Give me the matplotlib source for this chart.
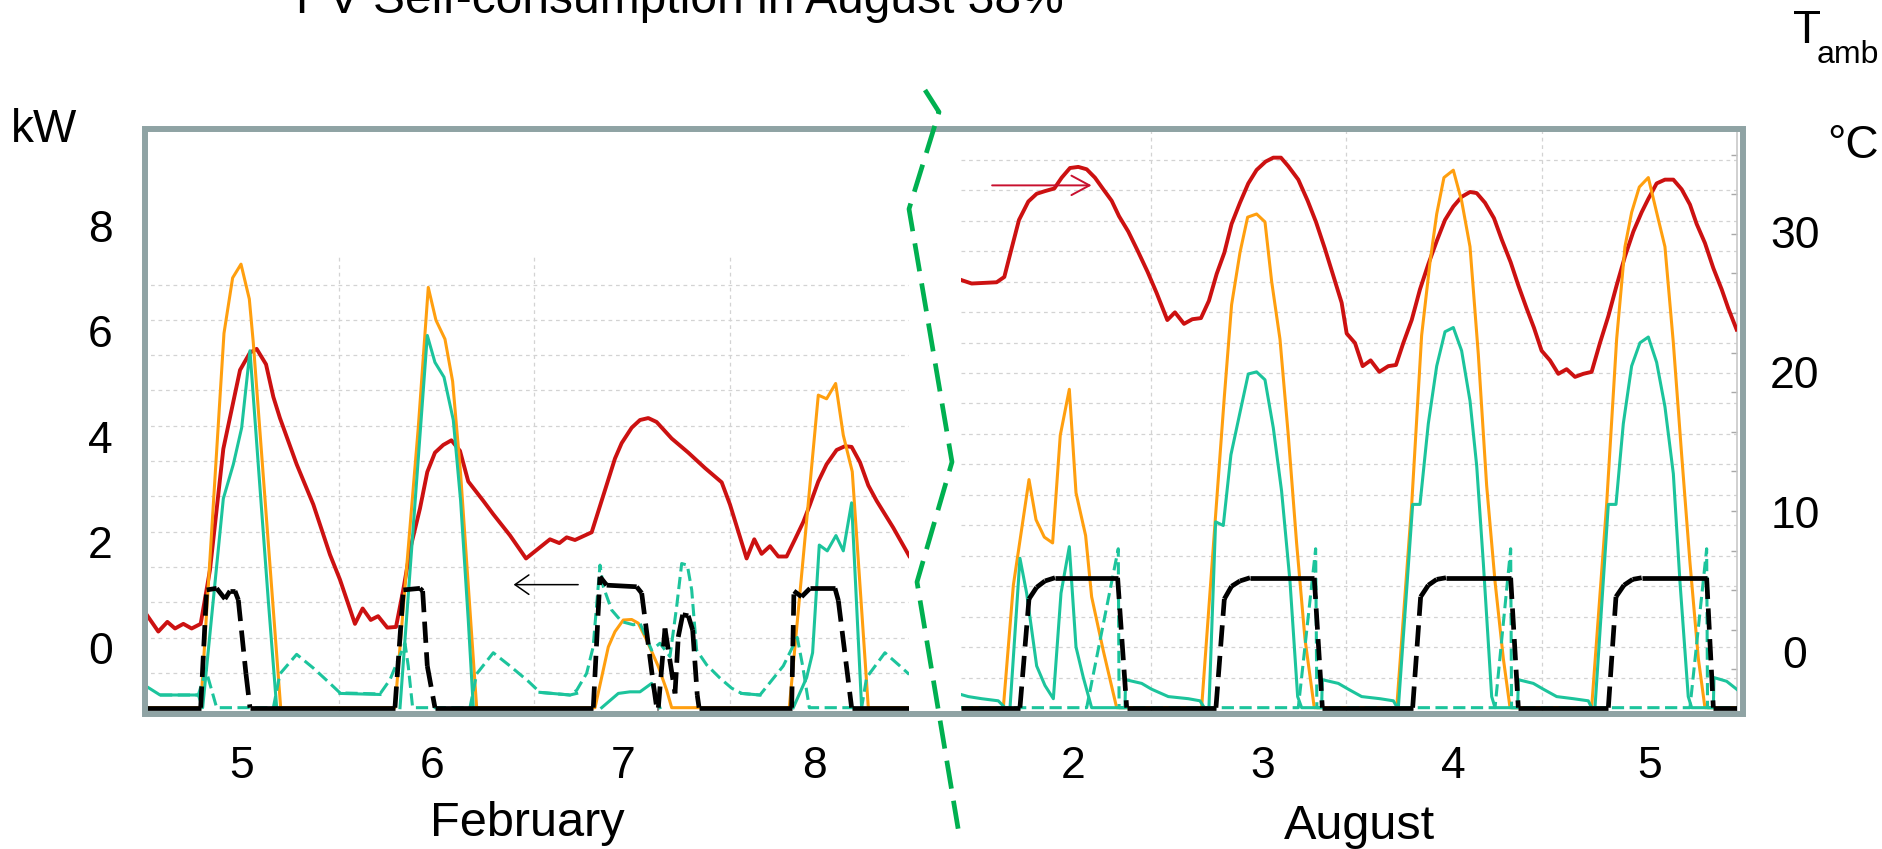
import numpy as np
import matplotlib
matplotlib.use("Agg")
import matplotlib.pyplot as plt
from matplotlib.collections import LineCollection
from matplotlib.lines import Line2D
from matplotlib.patches import Rectangle

plt.rcParams['font.family'] = ['Liberation Sans', 'DejaVu Sans']

# ---- data (hour of the 4-day window, value) ----
# kW series on the left axis, ambient temperature in degC on the right axis
feb_days = ['5', '6', '7', '8']
aug_days = ['2', '3', '4', '5']
feb_day_pos = [12.0, 35.4, 58.9, 82.4]
aug_day_pos = [14.5, 37.7, 61.2, 85.3]

feb_tamb = [(0.18, 2.84), (1.82, 1.46), (2.93, 2.15), (3.87, 1.68), (4.89, 2.01), (5.91, 1.68),
            (7.02, 2.01), (8.16, 5.86), (9.8, 14.51), (11.85, 20.14), (13.07, 21.38), (13.89, 21.65),
            (15.04, 20.55), (15.94, 18.22), (16.75, 16.71), (18.8, 13.41), (20.85, 10.53), (22.89, 6.96),
            (24.12, 5.17), (25.96, 2.01), (26.9, 3.11), (27.9, 2.29), (28.8, 2.56), (29.93, 1.74),
            (31.0, 1.79), (31.9, 4.48), (32.8, 7.5), (33.94, 10.25), (34.84, 12.86), (35.78, 14.24),
            (36.8, 14.79), (37.8, 15.12), (38.85, 14.37), (39.87, 12.18), (41.71, 10.8), (42.94, 9.84),
            (44.99, 8.33), (46.96, 6.68), (49.9, 8.05), (51.05, 7.78), (51.95, 8.19), (52.97, 8.0),
            (55.02, 8.55), (56.24, 10.8), (57.88, 13.82), (58.7, 14.92), (59.93, 16.02), (60.95, 16.57),
            (61.97, 16.71), (62.99, 16.43), (64.84, 15.25), (66.88, 14.24), (68.93, 13.14), (70.98, 12.12),
            (72.0, 10.53), (74.04, 6.68), (74.98, 8.05), (75.88, 7.01), (76.91, 7.56), (77.93, 6.82),
            (78.95, 6.82), (79.98, 8.05), (81.0, 9.29), (81.82, 10.53), (82.84, 12.18), (83.86, 13.41),
            (85.09, 14.43), (86.11, 14.7), (86.93, 14.65), (87.96, 13.55), (88.98, 11.9), (90.0, 10.8),
            (92.04, 8.88), (94.0, 6.86)]

feb_pv = [(0, -1.13), (7.02, -1.13), (9.88, 5.96), (10.94, 7.01), (11.97, 7.27), (12.99, 6.61),
          (13.48, 5.78), (15.32, 1.99), (16.84, -1.13), (30.87, -1.13), (33.73, 4.17), (34.96, 6.83),
          (35.9, 6.21), (37.01, 5.85), (37.95, 5.05), (38.93, 3.3), (40.9, -1.13), (55.43, -1.13),
          (57.06, 0.02), (57.88, 0.31), (58.9, 0.53), (59.93, 0.54), (60.74, 0.47), (61.77, 0.15),
          (63.2, -0.35), (64.23, -0.8), (64.84, -1.13), (79.28, -1.13), (82.84, 4.79), (83.86, 4.72),
          (84.97, 5.01), (85.91, 4.03), (87.01, 3.34), (88.98, -1.13), (94.0, -1.13)]

nan = np.nan
feb_self = [(0.18, -0.71), (2.03, -0.89), (6.73, -0.89), (7.26, -1.13), (9.8, 2.83), (11.03, 3.48),
            (12.05, 4.17), (13.07, 5.63), (14.1, 3.45), (15.32, 0.9), (16.35, -1.13), (nan, nan),
            (24.12, -0.86), (29.03, -0.88), (nan, nan), (31.49, -1.13), (34.84, 5.92), (35.78, 5.41),
            (36.89, 5.13), (38.03, 4.32), (38.93, 2.79), (39.87, 0.53), (40.49, -1.13), (nan, nan),
            (48.67, -0.84), (52.36, -0.89), (53.18, -0.86), (nan, nan), (56.25, -1.13), (58.29, -0.86),
            (59.72, -0.83), (60.95, -0.83), (62.38, -0.67), (63.4, -1.13), (nan, nan), (73.43, -0.86),
            (75.68, -0.89), (nan, nan), (79.77, -1.13), (81.41, -0.56), (82.14, -0.09), (82.96, 1.95),
            (83.94, 1.84), (85.01, 2.13), (85.91, 1.84), (86.93, 2.75), (88.16, -1.13)]

feb_load = [(2.03, -0.89), (6.73, -0.89), (7.67, -0.42), (8.98, -1.13), (15.94, -1.13), (16.75, -0.49),
            (18.8, -0.12), (20.85, -0.38), (22.89, -0.67), (24.12, -0.85), (29.03, -0.87), (30.26, -0.6),
            (32.1, 0.09), (32.5, -0.34), (33.04, -1.13), (40.08, -1.13), (40.9, -0.49), (42.94, -0.09),
            (44.99, -0.34), (47.24, -0.63), (48.67, -0.84), (52.36, -0.89), (53.18, -0.8), (54.4, -0.48),
            (55.2, 0.02), (56.04, 1.57), (56.45, 1.16), (57.47, 0.72), (58.7, 0.5), (60.13, 0.44),
            (60.95, 0.47), (62.38, -0.04), (63.4, 0.09), (64.63, -0.16), (65.45, 0.78), (66.07, 1.6),
            (66.76, 1.57), (67.3, 1.1), (67.9, -0.04), (69.14, -0.32), (70.77, -0.57), (72.2, -0.76),
            (73.43, -0.86), (75.68, -0.89), (78.54, -0.34), (80.26, 0.2), (80.92, -0.34), (81.74, -1.13),
            (88.16, -1.13), (88.77, -0.56), (91.02, -0.09), (92.86, -0.34), (94.0, -0.5)]

feb_hp = [(0, -1.13), (7.02, -1.13), (7.75, 1.1), (8.98, 1.13), (10.0, 0.93), (10.62, 1.08),
          (11.23, 1.08), (11.64, 0.91), (12.58, -0.49), (13.07, -1.13), (30.87, -1.13), (31.9, 1.1),
          (33.94, 1.13), (34.27, 1.08), (34.84, -0.34), (35.78, -1.13), (55.22, -1.13), (56.04, 1.35),
          (56.86, 1.19), (60.54, 1.16), (61.16, 1.04), (62.58, -0.67), (63.0, -1.13), (63.2, -1.13),
          (64.02, 0.37), (65.25, -0.86), (65.65, 0.21), (66.19, 0.63), (66.88, 0.61), (67.42, 0.34),
          (67.98, -0.89), (68.2, -1.13), (79.57, -1.13), (79.85, 1.08), (80.79, 0.97), (81.82, 1.13),
          (84.89, 1.13), (85.3, 0.9), (86.93, -1.13), (94.0, -1.13)]

aug_tamb = [(0.59, 26.6), (2.02, 26.32), (5.09, 26.41), (6.03, 26.79), (6.85, 28.66), (7.83, 30.86),
            (8.98, 32.18), (10.0, 32.73), (11.02, 32.92), (12.17, 33.11), (13.07, 33.88), (14.09, 34.57),
            (15.11, 34.65), (16.14, 34.48), (17.16, 33.88), (18.18, 33.05), (19.21, 32.23), (20.11, 31.13),
            (21.25, 30.03), (22.4, 28.66), (23.62, 27.15), (24.73, 25.64), (26.04, 23.71), (26.98, 24.26),
            (28.09, 23.44), (29.11, 23.77), (30.17, 23.85), (31.15, 25.09), (32.1, 27.01), (33.04, 28.52),
            (33.93, 30.58), (34.96, 32.09), (35.98, 33.47), (37.0, 34.43), (38.11, 35.03), (39.05, 35.31),
            (39.99, 35.31), (40.89, 34.7), (42.12, 33.74), (43.27, 32.23), (44.29, 30.72), (45.39, 28.8),
            (46.42, 26.87), (47.44, 24.95), (48.06, 22.75), (49.08, 22.07), (50.02, 20.42), (51.0, 20.83),
            (52.07, 20.01), (53.17, 20.42), (54.11, 20.5), (55.01, 22.07), (56.04, 23.71), (57.06, 25.91),
            (58.08, 27.7), (59.11, 29.35), (60.13, 30.86), (61.15, 31.82), (62.17, 32.51), (63.2, 32.86),
            (64.02, 32.78), (65.04, 32.09), (66.14, 30.99), (67.08, 29.48), (68.19, 27.84), (69.13, 26.19),
            (70.15, 24.54), (71.05, 23.16), (71.99, 21.52), (73.02, 20.83), (74.04, 19.87), (75.06, 20.2),
            (76.09, 19.65), (77.11, 19.87), (78.13, 20.01), (79.15, 22.07), (80.18, 23.99), (81.2, 26.19),
            (82.22, 28.25), (83.25, 30.03), (84.27, 31.41), (85.09, 32.37), (86.11, 33.47), (87.13, 33.74),
            (88.16, 33.74), (89.18, 33.05), (90.2, 31.96), (91.02, 30.58), (92.04, 29.21), (93.07, 27.42),
            (94.09, 25.91), (94.91, 24.54), (95.93, 23.03)]

aug_pv = [(0.7, -1.13), (5.91, -1.13), (7.14, 1.19), (9.06, 3.19), (9.92, 2.43), (10.94, 2.1),
          (11.96, 1.99), (12.9, 4.03), (14.01, 4.9), (14.83, 2.94), (16.01, 2.13), (16.75, 0.97),
          (18.18, -0.05), (19.82, -1.13), (30.25, -1.13), (31.89, 2.35), (33.04, 4.76), (33.93, 6.5),
          (34.96, 7.49), (35.9, 8.16), (37.0, 8.22), (38.03, 8.07), (38.85, 6.94), (39.87, 5.85),
          (40.89, 4.03), (41.91, 1.99), (42.94, 0.17), (44.08, -1.13), (54.2, -1.13), (56.04, 2.72),
          (57.26, 5.92), (58.29, 7.31), (59.11, 8.22), (60.0, 8.91), (61.15, 9.05), (62.17, 8.47),
          (63.2, 7.6), (64.22, 5.56), (65.24, 3.08), (66.27, 1.26), (67.29, -0.2), (68.11, -1.13),
          (78.13, -1.13), (79.97, 2.72), (81.2, 5.85), (82.22, 7.6), (83.04, 8.25), (83.98, 8.73),
          (85.09, 8.91), (86.11, 8.25), (87.13, 7.6), (88.16, 5.78), (89.18, 3.66), (90.2, 1.62),
          (91.23, -0.2), (92.04, -1.13), (96.0, -1.13)]

aug_self = [(0.7, -0.88), (1.61, -0.92), (3.25, -0.96), (5.29, -1.0), (6.11, -1.13), (6.73, -1.13),
            (7.95, 1.7), (8.77, 1.04), (10.0, -0.34), (11.02, -0.71), (12.05, -0.96), (12.99, 1.04),
            (14.01, 1.92), (14.83, 0.02), (15.73, -0.56), (16.75, -1.13), (20.84, -1.13), (20.92, -0.6),
            (22.89, -0.67), (24.11, -0.78), (26.16, -0.92), (28.62, -0.96), (30.05, -1.0), (30.58, -1.13),
            (31.15, -1.13), (31.97, 2.39), (32.91, 2.32), (33.85, 3.66), (34.96, 4.46), (35.98, 5.19),
            (37.0, 5.23), (38.03, 5.08), (39.05, 4.17), (40.07, 2.97), (41.1, 1.26), (42.04, -0.92),
            (42.53, -1.13), (44.98, -1.13), (45.07, -0.6), (47.03, -0.67), (48.26, -0.78), (49.9, -0.92),
            (52.15, -0.96), (53.79, -1.0), (54.28, -1.13), (54.4, -1.13), (56.16, 2.72), (57.06, 2.72),
            (58.08, 4.25), (59.11, 5.34), (60.13, 5.99), (61.15, 6.07), (62.17, 5.63), (63.2, 4.68),
            (64.02, 3.45), (64.83, 1.62), (65.86, -0.92), (66.27, -1.13), (69.05, -1.13), (69.13, -0.6),
            (70.97, -0.67), (72.2, -0.78), (73.84, -0.92), (75.88, -0.96), (77.72, -1.0), (78.13, -1.13),
            (78.54, -1.13), (80.18, 2.72), (81.12, 2.72), (82.02, 4.25), (83.04, 5.34), (84.06, 5.78),
            (85.09, 5.89), (86.11, 5.41), (87.13, 4.57), (88.16, 3.3), (88.97, 1.26), (89.99, -0.92),
            (90.41, -1.13), (93.07, -1.13), (93.15, -0.56), (94.7, -0.63), (95.93, -0.78)]

aug_load = [(0.7, -1.13), (16.14, -1.13), (20.02, 1.88), (20.12, -1.13), (42.12, -1.13), (44.25, 1.88),
            (44.4, -1.13), (66.27, -1.13), (68.19, 1.88), (68.3, -1.13), (90.2, -1.13), (92.25, 1.88),
            (92.36, -1.13), (96.0, -1.13)]

aug_hp = [(0.7, -1.13), (7.95, -1.13), (9.06, 0.93), (10.0, 1.15), (11.02, 1.27), (12.25, 1.33),
          (19.94, 1.33), (21.05, -1.13), (32.01, -1.13), (33.04, 0.93), (33.93, 1.17), (34.96, 1.27),
          (36.19, 1.33), (44.08, 1.33), (45.07, -1.13), (56.16, -1.13), (57.14, 0.97), (58.08, 1.19),
          (59.11, 1.3), (60.25, 1.33), (68.19, 1.33), (69.13, -1.13), (80.18, -1.13), (81.12, 0.97),
          (82.1, 1.19), (83.16, 1.3), (84.27, 1.33), (92.25, 1.33), (93.07, -1.13), (96.0, -1.13)]

# ---- styling ----
RED, ORANGE, TEAL = '#CC1111', '#FF9F0F', '#1CC49C'
GRID = '#D3D3D3'
FRAME = '#8FA3A4'
W, H = 1883, 849
KW_LIM = (-1.193, 9.792)
C_LIM = (-4.214, 37.214)


def fx(px):
    return px / W


def fy(py):
    return 1 - py / H


def xy(pairs):
    a = np.array(pairs, dtype=float)
    return a[:, 0], a[:, 1]


def hp_line(ax, pairs, steep=0.45):
    # excel-like dashing: long vertical jumps dashed, flat parts look solid
    x, y = xy(pairs)
    segs = [[(x[i], y[i]), (x[i + 1], y[i + 1])] for i in range(len(x) - 1)]
    styles = [(0, (4.5, 2.0)) if abs(y[i + 1] - y[i]) > steep else 'solid'
              for i in range(len(x) - 1)]
    lc = LineCollection(segs, colors='black', linewidths=3.4, linestyles=styles,
                        capstyle='butt', zorder=5)
    ax.add_collection(lc)


def panel(left, right, xlim, tamb, pv, self_use, load, hp, grid_c, grid_top):
    ax = fig.add_axes([fx(left), fy(711), fx(right) - fx(left), 580 / H])
    axt = ax.twinx()
    ax.set_zorder(1)
    axt.set_zorder(0)
    ax.patch.set_visible(False)
    for a in (ax, axt):
        a.set_xlim(*xlim)
        for s in a.spines.values():
            s.set_visible(False)
    ax.set_ylim(*KW_LIM)
    axt.set_ylim(*C_LIM)

    for g in grid_c:
        axt.axhline(g, color=GRID, lw=0.9, ls=(0, (3, 3)), zorder=0)
    for d in (24, 48, 72):
        axt.axvline(d, ymax=grid_top, color=GRID, lw=0.9, ls=(0, (3, 3)), zorder=0)

    axt.plot(*xy(tamb), color=RED, lw=2.8, zorder=3)
    ax.plot(*xy(pv), color=ORANGE, lw=2.2, zorder=2)
    ax.plot(*xy(self_use), color=TEAL, lw=2.2, zorder=3)
    ax.plot(*xy(load), color=TEAL, lw=2.2, dashes=(4, 1.8), zorder=3)
    hp_line(ax, hp)
    return ax, axt


fig = plt.figure(figsize=(W / 100, H / 100), dpi=100)

feb_grid = np.arange(-1.488, 26.3, 2.521)
aug_grid = np.arange(-1.84, 35.2, 2.177)
aug_side_ticks = np.arange(-1.247, 35.6, 2.829)

ax1, ax1t = panel(143.5, 909.2, (0, 94), feb_tamb, feb_pv, feb_self, feb_load, feb_hp,
                  feb_grid, (711 - 256) / 580)
ax2, ax2t = panel(960.9, 1737.2, (0.7, 96.0), aug_tamb, aug_pv, aug_self, aug_load, aug_hp,
                  aug_grid, 1.0)

# axes ticks
ax1.set_yticks([0, 2, 4, 6, 8])
ax1.tick_params(axis='y', length=0, pad=22, labelsize=32)
ax1t.set_yticks([])
ax2.set_yticks([])
ax1.set_xticks(feb_day_pos, feb_days)
ax2.set_xticks(aug_day_pos, aug_days)
for a in (ax1, ax2):
    a.tick_params(axis='x', length=0, pad=25, labelsize=32)

ax2t.spines['right'].set_visible(True)
ax2t.spines['right'].set_color('#C8C8C8')
ax2t.spines['right'].set_linewidth(1.2)
ax2t.set_yticks([0, 10, 20, 30])
ax2t.set_yticks(aug_side_ticks, minor=True)
ax2t.tick_params(axis='y', which='major', length=0, pad=41.6, labelsize=32)
ax2t.tick_params(axis='y', which='minor', direction='in', length=4, width=1, color='#A8A8A8')
plt.setp(ax2t.get_yticklabels(), ha='center')

# arrows telling which axis a curve belongs to
ax1.annotate('', xy=(45.1, 1.2), xytext=(53.7, 1.2),
             arrowprops=dict(arrowstyle='->,head_length=0.5,head_width=0.35',
                             mutation_scale=20, lw=1.1, color='black'), zorder=6)
ax2t.annotate('', xy=(17.08, 33.33), xytext=(4.19, 33.33),
              arrowprops=dict(arrowstyle='->,head_length=0.65,head_width=0.35',
                              mutation_scale=20, lw=1.4, color='#C8102E'), zorder=6)

# outer frame around both panels
fig.patches.append(Rectangle((fx(145), fy(714)), fx(1743) - fx(145), (714 - 128.5) / H,
                             transform=fig.transFigure, fill=False, lw=4.3,
                             edgecolor=FRAME, zorder=5))

# axis break between February and August
brk_x = [925, 939, 909, 952, 917, 959]
brk_y = [90, 112, 209, 462, 582, 834]
fig.lines.append(Line2D([fx(v) for v in brk_x], [fy(v) for v in brk_y],
                        transform=fig.transFigure, color='#00B050', lw=3.4,
                        dashes=(6, 2.6), zorder=6))

# texts (the title sits partly above the top edge, as in the slide)
fig.text(fx(296), fy(13.3), 'PV Self-consumption in August 38%', fontsize=34.5,
         ha='left', va='baseline')
fig.text(fx(11), fy(142), 'kW', fontsize=33, ha='left', va='baseline')
fig.text(fx(1793), fy(43.3), 'T', fontsize=33, ha='left', va='baseline')
fig.text(fx(1817), fy(63), 'amb', fontsize=23, ha='left', va='baseline')
fig.text(fx(1827), fy(158), '°C', fontsize=33, ha='left', va='baseline')
fig.text(fx(527), fy(836), 'February', fontsize=35, ha='center', va='baseline')
fig.text(fx(1359), fy(839), 'August', fontsize=35, ha='center', va='baseline')

fig.savefig('out.png', dpi=100)
